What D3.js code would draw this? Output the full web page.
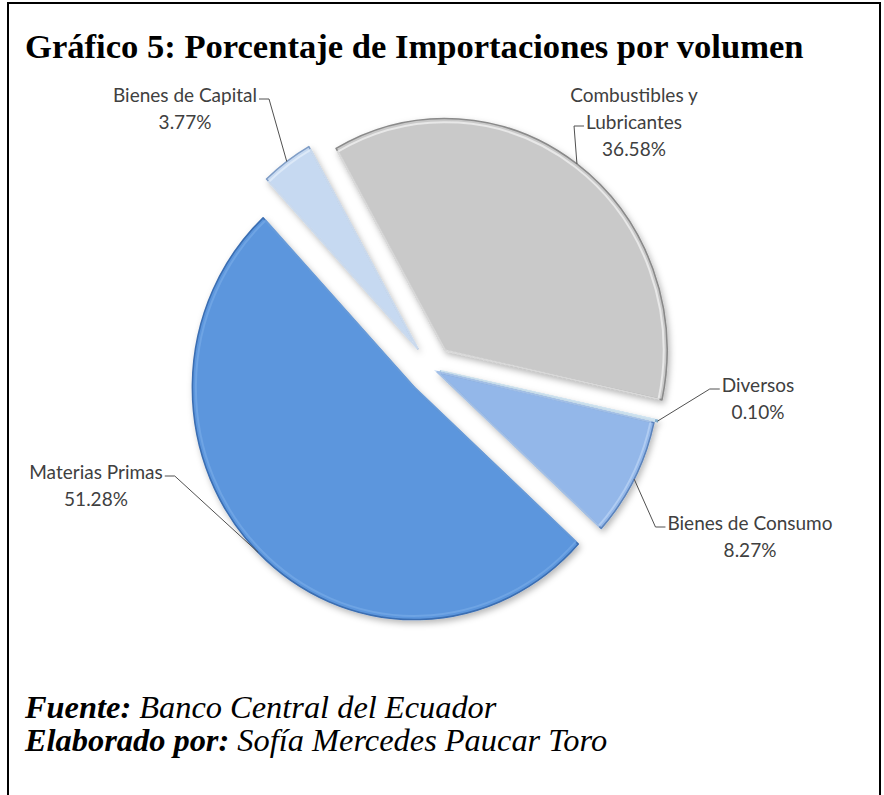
<!DOCTYPE html>
<html>
<head>
<meta charset="utf-8">
<script src="https://cdn.jsdelivr.net/npm/d3@7/dist/d3.min.js"></script>
<style>
  html, body { margin: 0; padding: 0; background: #ffffff; }
  svg { display: block; }
</style>
</head>
<body>
<svg id="chart" width="884" height="795"></svg>
<script>
// ---- data ----
const categories = ["Combustibles y Lubricantes", "Diversos", "Bienes de Consumo", "Materias Primas", "Bienes de Capital"];
const values = [36.58, 0.10, 8.27, 51.28, 3.77];
const nameLines = [["Combustibles y", "Lubricantes"], ["Diversos"], ["Bienes de Consumo"], ["Materias Primas"], ["Bienes de Capital"]];
const titleText = "Gráfico 5: Porcentaje de Importaciones por volumen";
const sourceLabel = "Fuente:";
const sourceText = " Banco Central del Ecuador";
const authorLabel = "Elaborado por:";
const authorText = " Sofía Mercedes Paucar Toro";

// ---- layout / style ----
const svg = d3.select("#chart");
const cx = 432, cy = 369, R = 222, ky = 1.045;
const startDeg = -29.4;
const style = {
  "Combustibles y Lubricantes": { fill: "#c9c9c9", stroke: "#8a8a8a", rim: "#f2f2f2", explode: 22 },
  "Diversos":                   { fill: "#bfe2f6", stroke: "#86b4d4", rim: "#e8f6fd", explode: 9 },
  "Bienes de Consumo":          { fill: "#93b7e9", stroke: "#5b84bd", rim: "#b9d3f4", explode: 6 },
  "Materias Primas":            { fill: "#5b96dd", stroke: "#3b6eb2", rim: "#74a8e6", explode: 25 },
  "Bienes de Capital":          { fill: "#c6d9f1", stroke: "#7f9dc6", rim: "#e3edf9", explode: 24 }
};
const labelPos = {
  "Combustibles y Lubricantes": { x: 634, y: 102, side: "left", line: 1 },
  "Diversos":                   { x: 758, y: 392, side: "left", line: 0 },
  "Bienes de Consumo":          { x: 750, y: 530, side: "left", line: 0 },
  "Materias Primas":            { x: 96,  y: 479, side: "right", line: 0 },
  "Bienes de Capital":          { x: 185, y: 102, side: "right", line: 0 }
};
const lineGap = 27;
const labelFont = "Lato, 'Open Sans', sans-serif";
const labelSize = 19;

// frame
svg.append("rect").attr("x", 8).attr("y", 3).attr("width", 872).attr("height", 820)
  .attr("fill", "none").attr("stroke", "#000").attr("stroke-width", 2);

// title
svg.append("text").attr("x", 25).attr("y", 58)
  .attr("font-family", "'Times New Roman', 'Liberation Serif', serif")
  .attr("font-weight", "bold").attr("font-size", 34.6).attr("fill", "#000")
  .text(titleText);

// defs
const defs = svg.append("defs");
const f = defs.append("filter").attr("id", "shadow").attr("x", "-20%").attr("y", "-20%").attr("width", "140%").attr("height", "140%");
f.append("feDropShadow").attr("dx", 2).attr("dy", 3).attr("stdDeviation", 3)
  .attr("flood-color", "#000").attr("flood-opacity", 0.28);

// pie
const data = categories.map((c, i) => ({ cat: c, value: values[i], lines: nameLines[i] }));
const a0 = startDeg * Math.PI / 180;
const pie = d3.pie().sort(null).value(d => d.value).startAngle(a0).endAngle(a0 + 2 * Math.PI);
const arcs = pie(data);
const arc = d3.arc().innerRadius(0).outerRadius(R);
const rimArc = d3.arc().innerRadius(0).outerRadius(R - 3.5);

const g = svg.append("g").attr("transform", `translate(${cx},${cy}) scale(1,${ky})`);

function offset(d) {
  const m = (d.startAngle + d.endAngle) / 2;
  const e = style[d.data.cat].explode;
  return [e * Math.sin(m), -e * Math.cos(m)];
}

const slices = g.selectAll("g.slice").data(arcs).join("g").attr("class", "slice")
  .attr("transform", d => { const o = offset(d); return `translate(${o[0]},${o[1]})`; });

slices.append("path").attr("d", arc)
  .attr("fill", d => style[d.data.cat].fill)
  .attr("stroke", d => style[d.data.cat].stroke)
  .attr("stroke-width", 1.6)
  .attr("vector-effect", "non-scaling-stroke")
  .attr("stroke-linejoin", "round")
  .attr("filter", "url(#shadow)");

slices.append("path").attr("d", rimArc)
  .attr("fill", "none")
  .attr("stroke", d => style[d.data.cat].rim)
  .attr("stroke-width", 2)
  .attr("stroke-opacity", 0.75)
  .attr("vector-effect", "non-scaling-stroke");

// labels and leaders
const fmt = v => v.toFixed(2) + "%";
arcs.forEach(d => {
  const lp = labelPos[d.data.cat];
  const lines = d.data.lines.concat([fmt(d.value)]);
  const t = svg.append("text")
    .attr("font-family", labelFont).attr("font-size", labelSize).attr("fill", "#404040")
    .attr("text-anchor", "middle");
  lines.forEach((s, i) => {
    t.append("tspan").attr("x", lp.x).attr("y", lp.y + i * lineGap).text(s);
  });
  const m = (d.startAngle + d.endAngle) / 2;
  const o = offset(d);
  const px = cx + R * Math.sin(m) + o[0];
  const py = cy + ky * (-R * Math.cos(m) + o[1]);
  const tsp = t.selectAll("tspan").nodes();
  const w = tsp[lp.line].getComputedTextLength();
  const ly = lp.y + lp.line * lineGap - 3;
  const ex = lp.side === "left" ? lp.x - w / 2 - 2 : lp.x + w / 2 + 2;
  const hx = lp.side === "left" ? ex - 10 : ex + 10;
  svg.append("polyline")
    .attr("points", `${ex},${ly} ${hx},${ly} ${px},${py}`)
    .attr("fill", "none").attr("stroke", "#505050").attr("stroke-width", 1);
});

// footer
const serif = "'Times New Roman', 'Liberation Serif', serif";
const f1 = svg.append("text").attr("x", 25).attr("y", 718)
  .attr("font-family", serif).attr("font-size", 32.4).attr("font-style", "italic").attr("fill", "#000");
f1.append("tspan").attr("font-weight", "bold").text(sourceLabel);
f1.append("tspan").text(sourceText);
const f2 = svg.append("text").attr("x", 25).attr("y", 751)
  .attr("font-family", serif).attr("font-size", 32.4).attr("font-style", "italic").attr("fill", "#000");
f2.append("tspan").attr("font-weight", "bold").text(authorLabel);
f2.append("tspan").text(authorText);
</script>
</body>
</html>
